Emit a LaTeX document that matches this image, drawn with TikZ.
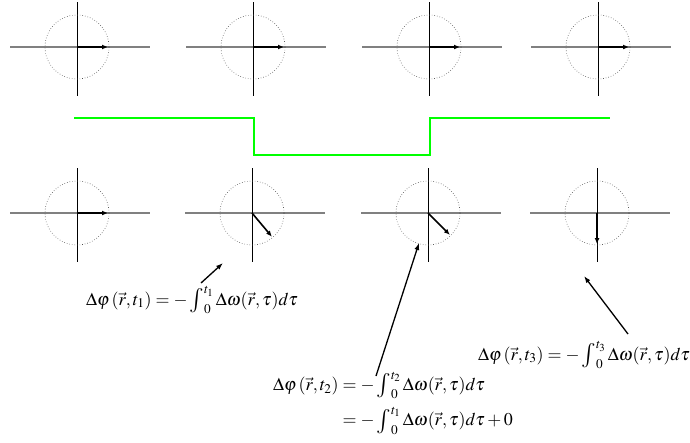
\documentclass[tikz,border=0pt]{standalone}
\usepackage{amsmath,mathptmx}
\usetikzlibrary{arrows.meta}
\newcommand{\phint}[1]{\mathop{\vcenter{\hbox{\scalebox{1.35}{$\int$}}}}\nolimits_0^{#1}}
\begin{document}
\begin{tikzpicture}[x=1pt,y=-1pt,
  axis/.style={black!50,line width=1.2pt},
  spin/.style={line width=1.6pt,-{Latex[length=6pt,width=5pt]}},
  note/.style={line width=1.3pt,-{Latex[length=7pt,width=5pt]}},
  every node/.style={font=\fontsize{18}{22}\selectfont}]
  \useasboundingbox (0,0) rectangle (690,442);
  % phasors before and after the gradient
  \foreach \x/\a/\y in {77/0/47,253/0/47,429/0/47,598/0/47,
                         77/0/213,252/50/213,428/45/213,597/90/213} {
    \draw[axis] (\x-67,\y) -- (\x+73,\y);
    \draw (\x,\y-45) -- (\x,\y+49);
    \draw[black!70,dotted,line width=0.6pt] (\x,\y) circle (32pt);
    \draw[spin] (\x,\y) -- ++(\a:31);
  }
  \draw[green,line width=2.6pt] (74,118) -- (254,118) -- (254,155)
    -- (430,155) -- (430,118) -- (610,118);
  \node (f1) at (192,300)
    {$\Delta\varphi\left(\vec r,t_1\right) = -\phint{t_1}\Delta\omega(\vec r,\tau)d\tau$};
  \node (f2) at (393,403)
    {$\begin{aligned}\Delta\varphi\left(\vec r,t_2\right) &= -\phint{t_2}\Delta\omega(\vec r,\tau)d\tau\\[4pt]
      &= -\phint{t_1}\Delta\omega(\vec r,\tau)d\tau+0\end{aligned}$};
  \node (f3) at (584,355)
    {$\Delta\varphi\left(\vec r,t_3\right) = -\phint{t_3}\Delta\omega(\vec r,\tau)d\tau$};
  \coordinate (a1) at (201,283);
  \coordinate (b1) at (223,263);
  \coordinate (a2) at (376,376);
  \coordinate (b2) at (419,243);
  \coordinate (a3) at (628,334);
  \coordinate (b3) at (584,276);
  \draw[note] (a1) -- (b1);
  \draw[note] (a2) -- (b2);
  \draw[note] (a3) -- (b3);
\end{tikzpicture}
\end{document}
